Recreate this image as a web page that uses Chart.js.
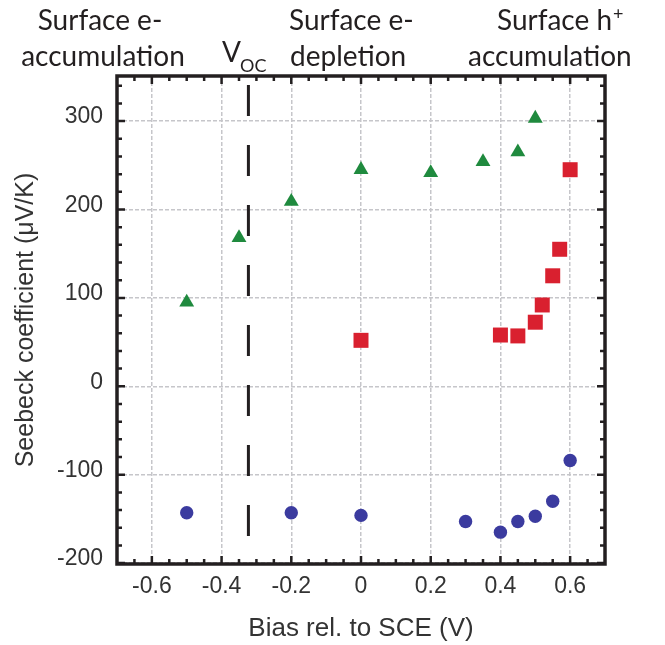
<!DOCTYPE html>
<html><head><meta charset="utf-8">
<script src="https://cdn.jsdelivr.net/npm/chart.js@4/dist/chart.umd.min.js"></script>
<style>html,body{margin:0;padding:0;background:#fff;}</style>
</head><body><canvas id="c" width="665" height="645"></canvas>
<script>
// Green triangles
const triX = [-0.5, -0.35, -0.2, 0, 0.2, 0.35, 0.45, 0.5];
const triY = [95, 168, 209, 245, 241.5, 254, 265, 303];
// Red squares
const sqX = [0, 0.4, 0.45, 0.5, 0.52, 0.55, 0.57, 0.6];
const sqY = [52, 58, 57, 72.5, 92, 125, 155, 245];
// Blue circles
const ciX = [-0.5, -0.2, 0, 0.3, 0.4, 0.45, 0.5, 0.55, 0.6];
const ciY = [-143, -143, -146, -153, -165, -153, -147, -130, -84];
// V_oc marker line
const vocX = [-0.323, -0.323];
const vocY = [340.7, -171];
// Axes
const xTicks = [-0.6, -0.4, -0.2, 0, 0.2, 0.4, 0.6];
const xTickLabels = ['-0.6', '-0.4', '-0.2', '0', '0.2', '0.4', '0.6'];
const xMinor = [-0.65, -0.55, -0.5, -0.45, -0.35, -0.3, -0.25, -0.15, -0.1, -0.05, 0.05, 0.1, 0.15, 0.25, 0.3, 0.35, 0.45, 0.5, 0.55, 0.65];
const yTicks = [-200, -100, 0, 100, 200, 300];
const yTickLabels = ['-200', '-100', '0', '100', '200', '300'];
const yMinor = [-180, -160, -140, -120, -80, -60, -40, -20, 20, 40, 60, 80, 120, 140, 160, 180, 220, 240, 260, 280, 320, 340];
const headerTexts = ['Surface e-', 'accumulation', 'Surface e-', 'depletion', 'Surface h', 'accumulation'];

const INK = '#231f20';

const frame = {
  id: 'frame',
  afterDatasetsDraw(chart) {
    const {ctx, chartArea: a, scales: {x, y}} = chart;
    ctx.save();
    ctx.strokeStyle = INK;
    ctx.lineWidth = 2.5;
    ctx.beginPath();
    const vt = (vals, len) => vals.forEach(v => {
      const px = x.getPixelForValue(v);
      ctx.moveTo(px, a.bottom); ctx.lineTo(px, a.bottom - len);
      ctx.moveTo(px, a.top); ctx.lineTo(px, a.top + len);
    });
    const ht = (vals, len) => vals.forEach(v => {
      const py = y.getPixelForValue(v);
      ctx.moveTo(a.left, py); ctx.lineTo(a.left + len, py);
      ctx.moveTo(a.right, py); ctx.lineTo(a.right - len, py);
    });
    vt(xTicks, 8); vt(xMinor, 5);
    ht(yTicks, 8); ht(yMinor, 5);
    ctx.stroke();
    ctx.lineWidth = 3.5;
    ctx.strokeRect(a.left, a.top, a.right - a.left, a.bottom - a.top);
    ctx.restore();
  }
};

const headers = {
  id: 'headers',
  afterDraw(chart) {
    const ctx = chart.ctx;
    ctx.save();
    ctx.fillStyle = INK;
    ctx.textBaseline = 'alphabetic';
    ctx.font = '28px Lato';
    ctx.textAlign = 'center';
    ctx.fillText(headerTexts[0], 100, 30);
    ctx.fillText(headerTexts[1], 103, 66);
    ctx.textAlign = 'left';
    ctx.fillText(headerTexts[2], 289, 30);
    ctx.fillText(headerTexts[3], 290, 66);
    ctx.fillText(headerTexts[4], 497, 30);
    const w = ctx.measureText(headerTexts[4]).width;
    ctx.save();
    ctx.beginPath();
    ctx.rect(0, 0, 640, 100);
    ctx.clip();
    ctx.fillText(headerTexts[5], 468, 66);
    ctx.restore();
    ctx.fillText('V', 222, 62);
    ctx.font = '18px Lato';
    ctx.fillText('+', 497 + w + 1, 20);
    ctx.fillText('OC', 240, 72);
    ctx.restore();
  }
};

const pts = (xs, ys) => xs.map((v, i) => ({x: v, y: ys[i]}));

new Chart(document.getElementById('c'), {
  type: 'scatter',
  data: {
    datasets: [
      {data: pts(vocX, vocY), type: 'line', showLine: true, borderColor: INK, borderWidth: 3, borderDash: [31, 29], pointRadius: 0, fill: false},
      {data: pts(triX, triY), pointStyle: 'triangle', pointRadius: 8.6, backgroundColor: '#1f8a3e', borderColor: '#1f8a3e', borderWidth: 0},
      {data: pts(sqX, sqY), pointStyle: 'rect', pointRadius: 10.6, backgroundColor: '#d9202f', borderColor: '#d9202f', borderWidth: 0},
      {data: pts(ciX, ciY), pointStyle: 'circle', pointRadius: 6.7, backgroundColor: '#3b3b9f', borderColor: '#3b3b9f', borderWidth: 0}
    ]
  },
  options: {
    responsive: false,
    animation: false,
    devicePixelRatio: 1,
    layout: {padding: {top: 76, right: 60, left: 0, bottom: 0}},
    plugins: {legend: {display: false}, tooltip: {enabled: false}},
    scales: {
      x: {
        type: 'linear', min: -0.7, max: 0.7,
        afterBuildTicks: s => { s.ticks = xTicks.map(v => ({value: v})); },
        afterFit: s => { s.height = 81; },
        grid: {color: '#c6c6ca', lineWidth: 1.5, drawTicks: false},
        border: {display: false, dash: [4, 2]},
        ticks: {padding: 9, color: '#333', font: {family: 'Liberation Sans', size: 23}, callback: (v, i) => xTickLabels[i], maxRotation: 0},
        title: {display: true, text: 'Bias rel. to SCE (V)', color: '#333', font: {family: 'Liberation Sans', size: 26}, padding: {top: 2, bottom: 1}}
      },
      y: {
        type: 'linear', min: -201, max: 351,
        afterBuildTicks: s => { s.ticks = yTicks.map(v => ({value: v})); },
        afterFit: s => { s.width = 117; },
        grid: {color: '#c6c6ca', lineWidth: 1.5, drawTicks: false},
        border: {display: false, dash: [4, 2]},
        ticks: {padding: 14, labelOffset: -4, color: '#333', font: {family: 'Liberation Sans', size: 23}, callback: (v, i) => yTickLabels[i]},
        title: {display: true, text: 'Seebeck coefficient (μV/K)', color: '#333', font: {family: 'Liberation Sans', size: 25}, padding: {top: 11, bottom: 0}}
      }
    }
  },
  plugins: [frame, headers]
});
</script>
</body></html>
